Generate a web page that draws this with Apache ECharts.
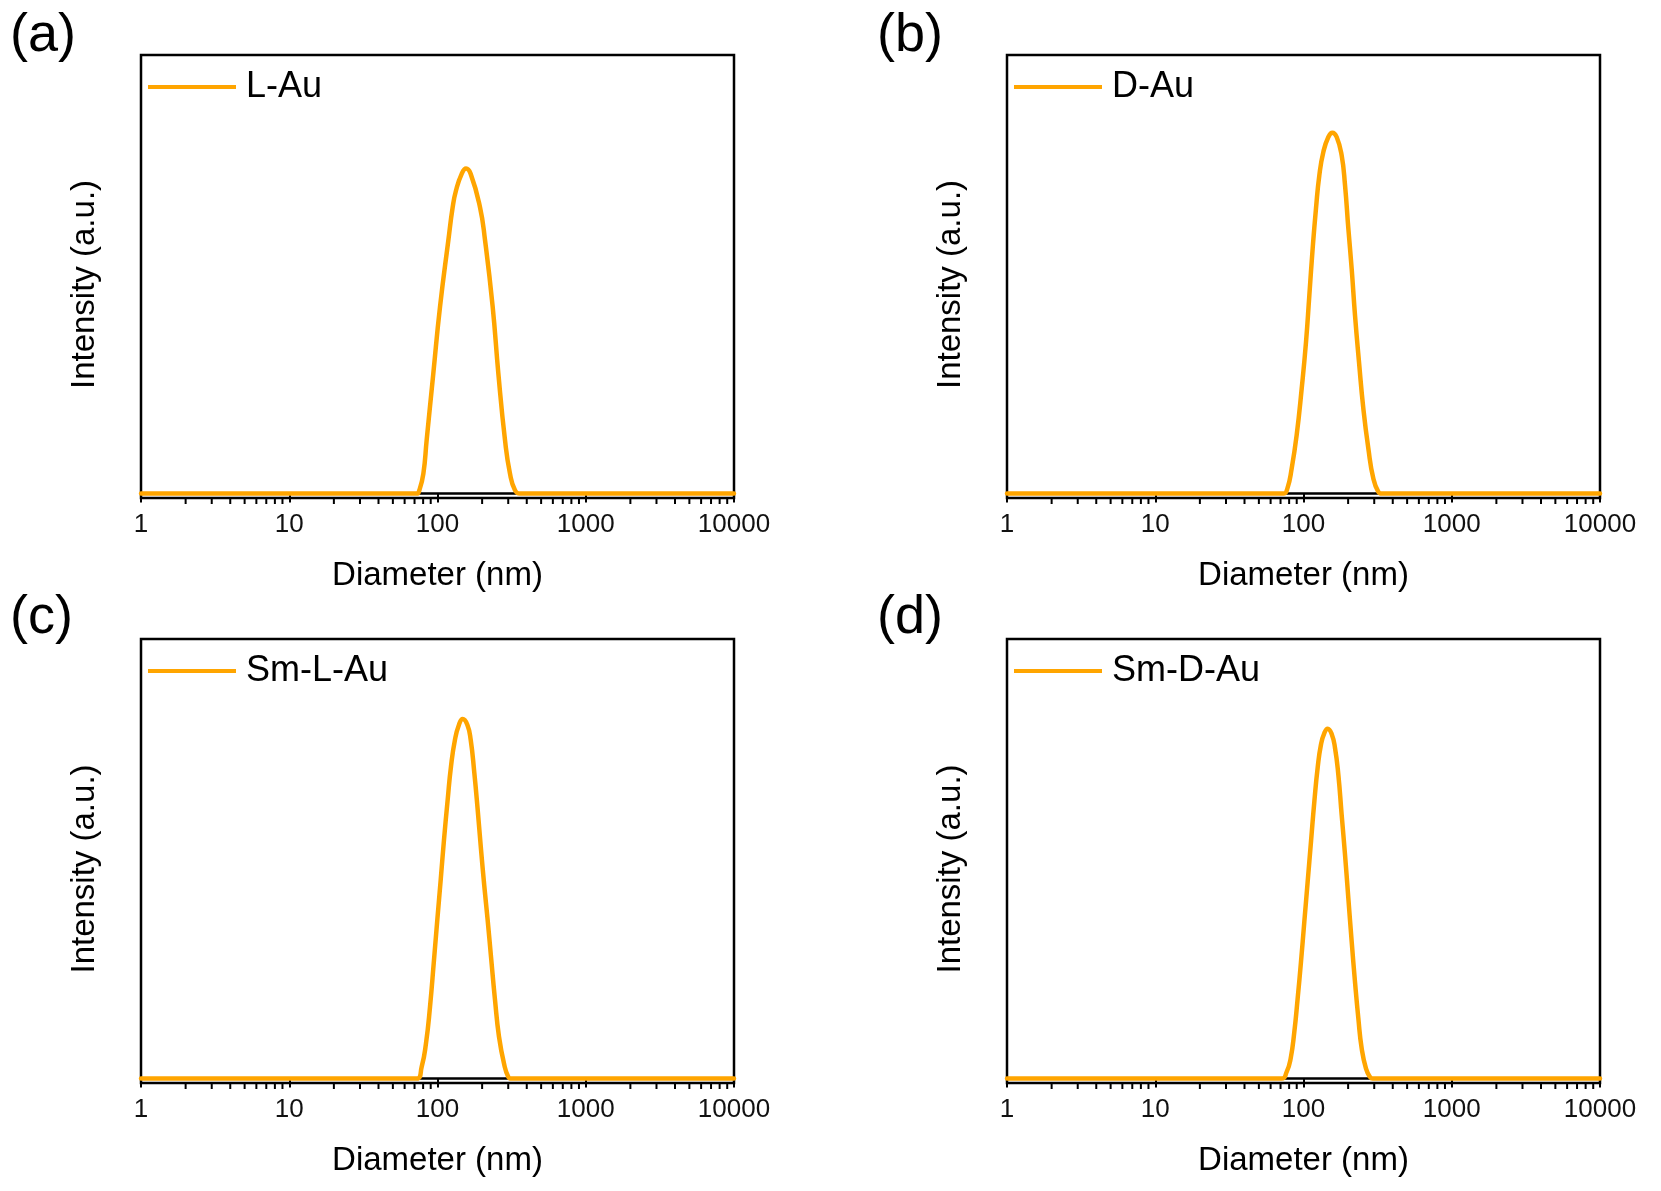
<!DOCTYPE html>
<html>
<head>
<meta charset="utf-8">
<script src="https://cdn.jsdelivr.net/npm/echarts@6/dist/echarts.min.js"></script>
<style>
html, body { margin: 0; padding: 0; background: #fff; }
#chart { width: 1661px; height: 1191px; }
</style>
</head>
<body>
<div id="chart"></div>
<script>
// diameter (nm) and intensity (a.u.)
var dLAu = [1, 72.4, 75.4, 80.3, 84.5, 93.7, 104.0, 118.4, 126.6, 133.3, 145.6, 155.7, 167.4, 193.5, 209.2, 235.6, 257.3, 285.3, 308.3, 333.3, 360.1, 10000];
var iLAu = [0, 0, 0.76, 4.56, 12.2, 27.4, 42.6, 57.8, 65.3, 69.1, 72.9, 74.1, 72.9, 65.3, 57.8, 42.6, 27.4, 12.2, 4.56, 0.76, 0, 0];

var dDAu = [1, 73.1, 77.8, 83.2, 89.9, 97.2, 104.0, 109.5, 115.3, 121.4, 127.9, 136.1, 147.1, 156.5, 167.4, 180.9, 190.6, 200.7, 211.3, 222.5, 236.8, 253.3, 273.7, 295.9, 319.8, 336.9, 10000];
var iDAu = [0, 0, 1.14, 5.70, 13.3, 23.9, 34.6, 45.2, 55.9, 65.0, 72.6, 77.9, 81.3, 82.3, 81.3, 77.1, 70.3, 60.4, 51.3, 40.7, 30.0, 19.4, 10.3, 3.42, 0.38, 0, 0];

var dSmLAu = [1, 72.4, 78.2, 83.6, 89.0, 94.7, 99.7, 105.1, 110.6, 117.1, 123.3, 131.2, 139.6, 147.9, 158.9, 167.4, 177.2, 186.6, 196.6, 207.0, 217.9, 229.6, 244.3, 260.0, 280.9, 300.5, 316.5, 10000];
var iSmLAu = [0, 0, 2.66, 7.98, 16.3, 27.0, 36.1, 45.2, 54.3, 63.4, 71.0, 77.1, 80.5, 81.8, 80.5, 77.1, 69.5, 61.2, 52.1, 43.7, 36.1, 27.7, 17.9, 9.50, 3.42, 0.38, 0, 0];

var dSmDAu = [1, 71.2, 77.0, 81.9, 86.7, 91.3, 96.2, 101.3, 106.7, 112.4, 118.4, 124.6, 131.2, 138.2, 145.6, 154.9, 163.2, 171.8, 180.9, 190.6, 200.7, 211.3, 222.5, 234.4, 246.9, 264.0, 280.9, 292.8, 10000];
var iSmDAu = [0, 0, 1.52, 4.56, 10.6, 18.2, 26.6, 35.7, 44.8, 54.0, 63.1, 70.7, 76.0, 78.6, 79.6, 78.4, 75.2, 69.1, 60.0, 50.9, 41.0, 31.2, 22.0, 13.7, 6.84, 2.28, 0.38, 0, 0];

var names = ['L-Au', 'D-Au', 'Sm-L-Au', 'Sm-D-Au'];
var panelLabels = ['(a)', '(b)', '(c)', '(d)'];
var minorTicks = [2, 3, 4, 5, 6, 7, 8, 9,
    20, 30, 40, 50, 60, 70, 80, 90,
    200, 300, 400, 500, 600, 700, 800, 900,
    2000, 3000, 4000, 5000, 6000, 7000, 8000, 9000];

var curves = [[dLAu, iLAu], [dDAu, iDAu], [dSmLAu, iSmLAu], [dSmDAu, iSmDAu]];

var FONT = 'Liberation Sans, Arial, sans-serif';
var ORANGE = '#FFA500';

var grids = [
    { left: 141, top: 55, width: 593, height: 443 },
    { left: 1007, top: 55, width: 593, height: 443 },
    { left: 141, top: 639, width: 593, height: 444 },
    { left: 1007, top: 639, width: 593, height: 444 }
];
var labelPos = [[10, 9], [877, 9], [10, 591], [877, 591]];

function zip(xs, ys) {
    var out = [];
    for (var i = 0; i < xs.length; i++) out.push([xs[i], ys[i]]);
    return out;
}

var option = {
    backgroundColor: '#fff',
    animation: false,
    title: [], grid: [], xAxis: [], yAxis: [], legend: [], series: []
};

for (var k = 0; k < 4; k++) {
    var g = grids[k];
    option.grid.push({
        left: g.left, top: g.top, width: g.width, height: g.height,
        show: true, borderColor: '#000', borderWidth: 2.5, containLabel: false
    });
    option.title.push({
        text: panelLabels[k], left: labelPos[k][0], top: labelPos[k][1], padding: 0,
        textStyle: { fontFamily: FONT, fontSize: 54, fontWeight: 'normal', color: '#000', lineHeight: 54 }
    });
    option.xAxis.push({
        type: 'log', logBase: 10, gridIndex: k, min: 1, max: 10000,
        name: 'Diameter (nm)', nameLocation: 'middle', nameGap: 61,
        nameTextStyle: { fontFamily: FONT, fontSize: 33, color: '#000' },
        axisLine: { show: true, lineStyle: { color: '#000', width: 2.5 } },
        axisTick: { show: true, inside: false, length: 9, lineStyle: { color: '#000', width: 2 } },
        axisLabel: {
            margin: 14, fontFamily: FONT, fontSize: 26, color: '#111',
            formatter: function (v) { return String(Math.round(v)); }
        },
        splitLine: { show: false },
        minorTick: { show: false }
    });
    option.yAxis.push({
        type: 'value', gridIndex: k, min: -1, max: 100,
        name: 'Intensity (a.u.)', nameLocation: 'middle', nameGap: 40, nameRotate: 90,
        nameTextStyle: { fontFamily: FONT, fontSize: 33, color: '#000', padding: [0, 16, 0, 0] },
        axisLine: { show: false }, axisTick: { show: false },
        axisLabel: { show: false }, splitLine: { show: false }
    });
    option.legend.push({
        data: [names[k]], left: g.left + 7, top: g.top + 13, padding: 0,
        icon: 'rect', itemWidth: 88, itemHeight: 4,
        itemStyle: { color: ORANGE },
        textStyle: { fontFamily: FONT, fontSize: 36, color: '#000', lineHeight: 38, padding: [0, 0, 0, 5] }
    });
    option.series.push({
        name: names[k], type: 'line', xAxisIndex: k, yAxisIndex: k,
        data: zip(curves[k][0], curves[k][1]),
        showSymbol: false, symbol: 'none',
        smooth: 0.5,
        lineStyle: { color: ORANGE, width: 4.5, cap: 'round', join: 'round' },
        itemStyle: { color: ORANGE },
        z: 3
    });
    option.series.push({
        type: 'custom', xAxisIndex: k, yAxisIndex: k, silent: true, clip: false, z: 5,
        data: minorTicks.map(function (v) { return [v, -1]; }),
        encode: { x: 0, y: 1 },
        renderItem: function (params, api) {
            var p = api.coord([api.value(0), api.value(1)]);
            return {
                type: 'line',
                shape: { x1: p[0], y1: p[1], x2: p[0], y2: p[1] + 6 },
                style: { stroke: '#000', lineWidth: 2 }
            };
        }
    });
}

var chart = echarts.init(document.getElementById('chart'));
chart.setOption(option);
window.addEventListener('resize', chart.resize);
</script>
</body>
</html>
